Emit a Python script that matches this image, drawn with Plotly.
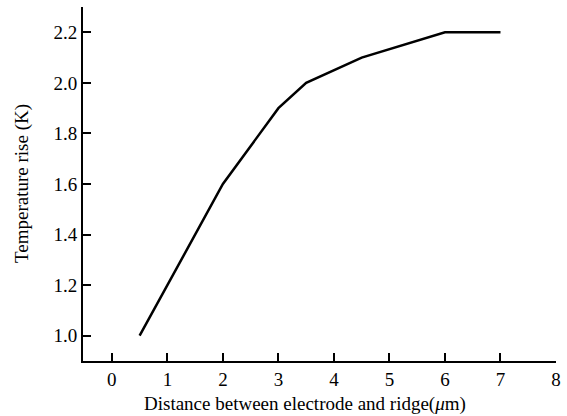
import plotly.graph_objects as go

distance = [0.5, 1.0, 2.0, 3.0, 3.5, 4.5, 6.0, 7.0]
temp_rise = [1.0, 1.2, 1.6, 1.9, 2.0, 2.1, 2.2, 2.2]
x_ticks = [0, 1, 2, 3, 4, 5, 6, 7, 8]
y_ticks = [1.0, 1.2, 1.4, 1.6, 1.8, 2.0, 2.2]

L, R, T, B = 83, 556, 7, 361

fig = go.Figure()
fig.add_trace(go.Scatter(x=distance, y=temp_rise, mode="lines",
                         line=dict(color="black", width=2.5), showlegend=False))

font = dict(family="Liberation Serif", size=19, color="black")
fig.update_layout(
    width=567, height=416,
    margin=dict(l=L, r=567 - R, t=T, b=416 - B, autoexpand=False),
    paper_bgcolor="white", plot_bgcolor="white",
    font=font,
    xaxis=dict(range=[-0.52, 8.0], tickvals=x_ticks, ticks="inside", ticklen=8,
               tickwidth=2, tickcolor="black", showline=True, linecolor="black",
               linewidth=2, showgrid=False, zeroline=False, tickfont=font,
               automargin=False),
    yaxis=dict(range=[0.9, 2.3], tickvals=y_ticks, tickformat=".1f", ticks="inside",
               ticklen=8, tickwidth=2, tickcolor="black", showline=True,
               linecolor="black", linewidth=2, showgrid=False, zeroline=False,
               tickfont=font, automargin=False),
)
fig.add_annotation(text="Distance between electrode and ridge(<i>μ</i>m)",
                   xref="paper", yref="paper", x=(305 - L) / (R - L),
                   y=-(404 - B) / (B - T), showarrow=False, font=font,
                   xanchor="center", yanchor="middle")
fig.add_annotation(text="Temperature rise (K)", textangle=-90,
                   xref="paper", yref="paper", x=-(L - 22) / (R - L),
                   y=0.5, showarrow=False, font=font,
                   xanchor="center", yanchor="middle")

fig.write_html("out.html", config={"displayModeBar": False},
               post_script="document.body.style.margin='0';")
